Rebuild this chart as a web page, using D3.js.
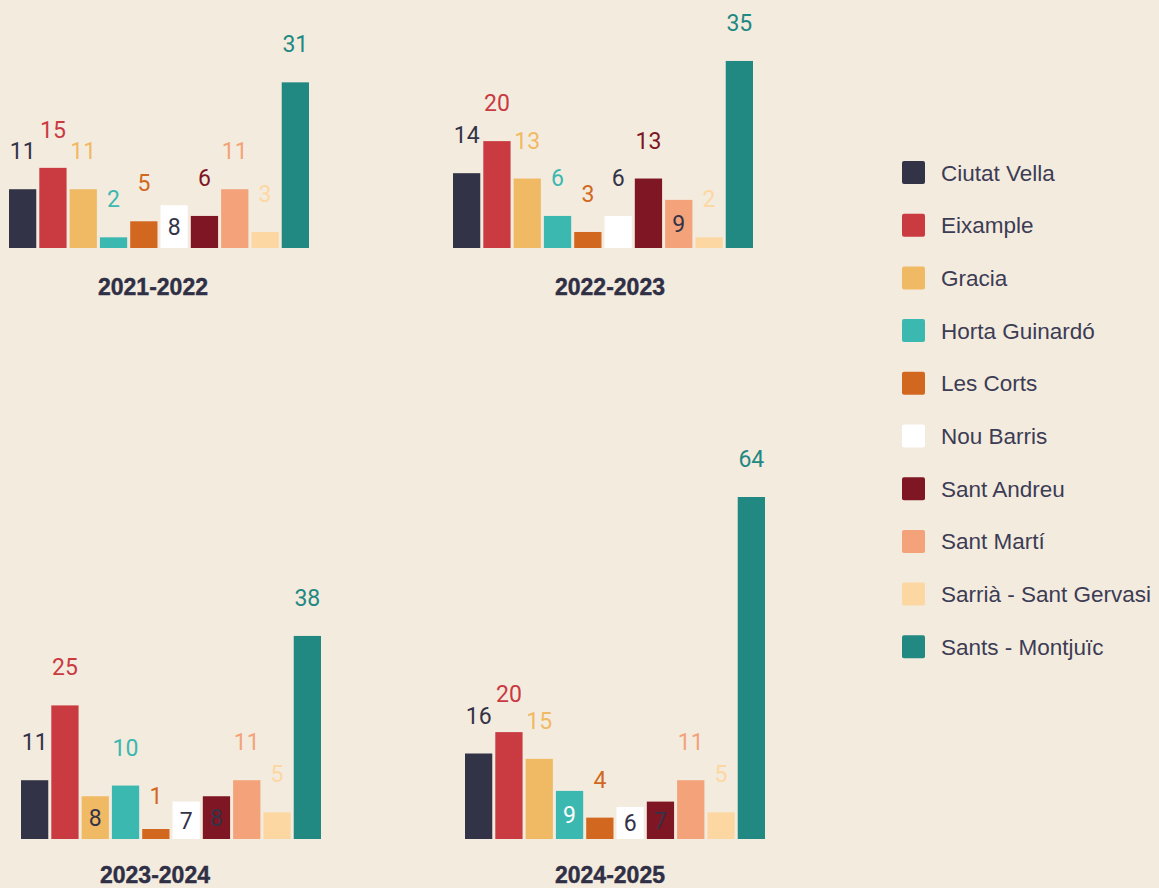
<!DOCTYPE html>
<html>
<head>
<meta charset="utf-8">
<script src="https://cdn.jsdelivr.net/npm/d3@7"></script>
<style>
  html, body { margin: 0; padding: 0; background: #f4ebdf; }
  svg { display: block; }
</style>
</head>
<body>
<div class="chart"></div>
<script>
// Districts (same order in every panel)
var districts = ["Ciutat Vella", "Eixample", "Gracia", "Horta Guinardó", "Les Corts",
                 "Nou Barris", "Sant Andreu", "Sant Martí", "Sarrià - Sant Gervasi", "Sants - Montjuïc"];
var districtColors = ["#333348", "#c93a41", "#f0ba65", "#3bb8b0", "#d26820",
                      "#ffffff", "#7e1623", "#f3a27a", "#fdd7a1", "#228882"];

var seasons = ["2021-2022", "2022-2023", "2023-2024", "2024-2025"];
var values2122 = [11, 15, 11, 2, 5, 8, 6, 11, 3, 31];
var values2223 = [14, 20, 13, 6, 3, 6, 13, 9, 2, 35];
var values2324 = [11, 25, 8, 10, 1, 7, 8, 11, 5, 38];
var values2425 = [16, 20, 15, 9, 4, 6, 7, 11, 5, 64];
var seasonValues = [values2122, values2223, values2324, values2425];

// which value labels sit inside their bar
var insideLabels = [
    ["Nou Barris"],
    ["Sant Martí"],
    ["Gracia", "Nou Barris", "Sant Andreu"],
    ["Horta Guinardó", "Nou Barris", "Sant Andreu"]
];

var svgWidth = 1159;
var svgHeight = 888;
var dark = "#333348";

// panel placement
var panels = [
    { left: 9,   base: 248, titleX: 153, titleY: 295 },
    { left: 453, base: 248, titleX: 610, titleY: 295 },
    { left: 21,  base: 839, titleX: 155, titleY: 883 },
    { left: 465, base: 839, titleX: 610, titleY: 883 }
];

var svg = d3.select(".chart")
    .append("svg")
    .attr("width", svgWidth)
    .attr("height", svgHeight);

svg.append("rect")
    .attr("width", svgWidth)
    .attr("height", svgHeight)
    .attr("fill", "#f4ebdf");

var color = d3.scaleOrdinal().domain(districts).range(districtColors);

var xScale = d3.scaleBand()
    .domain(districts)
    .range([0, 300])
    .paddingInner(0.1);

var allValues = d3.merge(seasonValues);
var hScale = d3.scaleLinear()
    .domain([0, d3.max(allValues)])
    .range([0, 342]);

seasons.forEach(function(season, i) {
    var p = panels[i];
    var data = districts.map(function(d, j) {
        return { district: d, value: seasonValues[i][j] };
    });

    var g = svg.append("g")
        .attr("transform", "translate(" + p.left + "," + p.base + ")");

    // bars (tiny values get a minimum visible height)
    g.selectAll("rect.bar")
        .data(data)
        .enter()
        .append("rect")
        .attr("class", "bar")
        .attr("x", function(d) { return xScale(d.district); })
        .attr("width", xScale.bandwidth())
        .attr("y", function(d) { return -Math.max(hScale(d.value), 10); })
        .attr("height", function(d) { return Math.max(hScale(d.value), 10); })
        .attr("fill", function(d) { return color(d.district); });

    // value labels
    g.selectAll("text.val")
        .data(data)
        .enter()
        .append("text")
        .attr("class", "val")
        .attr("x", function(d) { return xScale(d.district) + xScale.bandwidth() / 2; })
        .attr("y", function(d) {
            if (insideLabels[i].indexOf(d.district) >= 0) {
                return -hScale(d.value) / 2;
            }
            return -hScale(d.value) - 30;
        })
        .attr("dy", function(d) {
            return insideLabels[i].indexOf(d.district) >= 0 ? "0.36em" : 0;
        })
        .attr("text-anchor", "middle")
        .style("font-family", "Roboto, 'Noto Sans', sans-serif")
        .style("font-size", "23px")
        .style("fill", function(d) {
            if (insideLabels[i].indexOf(d.district) >= 0) {
                return d.district === "Horta Guinardó" ? "#ffffff" : dark;
            }
            return d.district === "Nou Barris" ? dark : color(d.district);
        })
        .text(function(d) { return d.value; });

    // season title
    svg.append("text")
        .attr("x", p.titleX)
        .attr("y", p.titleY)
        .attr("text-anchor", "middle")
        .style("font-family", "'Liberation Sans', Arial, sans-serif")
        .style("font-weight", "bold")
        .style("font-size", "23px")
        .style("fill", "#2f2f45")
        .style("stroke", "#2f2f45")
        .style("stroke-width", "0.4px")
        .text(season);
});

// legend
var legend = svg.append("g")
    .attr("transform", "translate(902,161)");

var rows = legend.selectAll("g")
    .data(districts)
    .enter()
    .append("g")
    .attr("transform", function(d, i) { return "translate(0," + (i * 52.7) + ")"; });

rows.append("rect")
    .attr("width", 23)
    .attr("height", 23)
    .attr("rx", 2)
    .attr("fill", function(d) { return color(d); });

rows.append("text")
    .attr("x", 39)
    .attr("y", 19.5)
    .style("font-family", "'Liberation Sans', Arial, sans-serif")
    .style("font-size", "22.5px")
    .style("fill", "#3c3c54")
    .text(function(d) { return d; });
</script>
</body>
</html>
